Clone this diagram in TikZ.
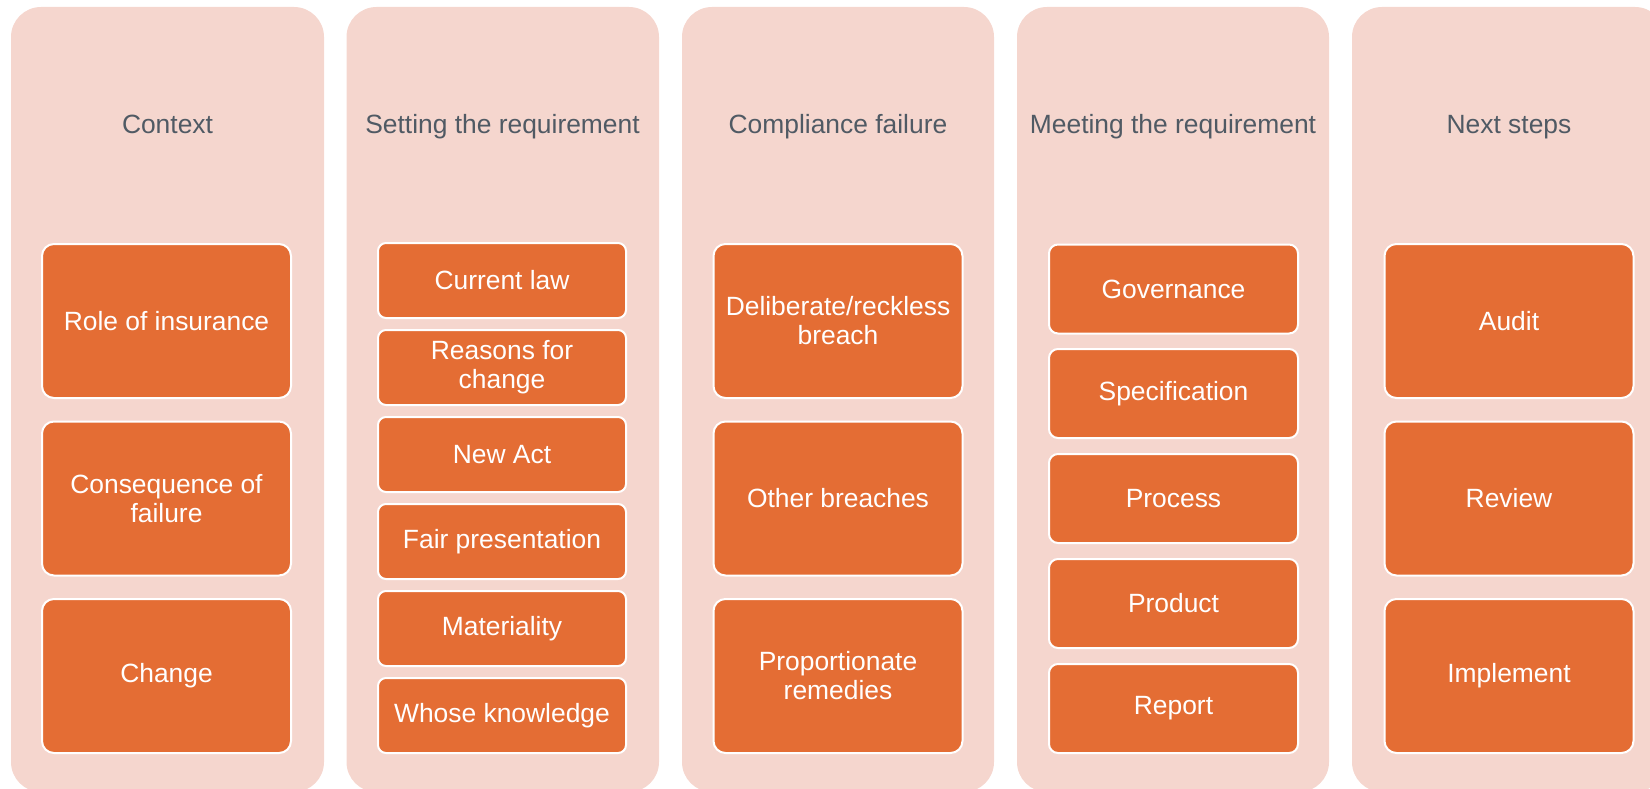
\documentclass[tikz,border=0pt]{standalone}
\usepackage{fontspec}
\setmainfont{Liberation Sans}
\usepackage{tikz}
\usetikzlibrary{positioning}
\definecolor{colpink}{RGB}{245,214,206}
\definecolor{boxorange}{RGB}{228,109,52}
\definecolor{headgray}{RGB}{80,90,100}
\tikzset{
	colhead/.style={text=headgray, anchor=base, font=\fontsize{26.4}{30}\selectfont},
	item/.style={draw=white, line width=2pt, fill=boxorange, text=white, align=center,
		rounded corners=12pt, font=\fontsize{26.4}{29}\selectfont, inner sep=0pt},
	bigitem/.style={item, minimum width=249pt, minimum height=154pt},
	smallitem/.style={item, minimum width=248pt, minimum height=75pt, rounded corners=8pt},
	miditem/.style={item, minimum width=249pt, minimum height=89pt, rounded corners=9pt}
}

\begin{document}
\begin{tikzpicture}[x=1pt,y=-1pt]
	\useasboundingbox (0,0) rectangle (1650,789);
	\clip (0,0) rectangle (1650,789);
	% columns
	\fill[colpink, rounded corners=30pt] (11,7) rectangle (324,792);
	\fill[colpink, rounded corners=30pt] (346.5,7) rectangle (659,792);
	\fill[colpink, rounded corners=30pt] (682,7) rectangle (994,792);
	\fill[colpink, rounded corners=30pt] (1017,7) rectangle (1329,792);
	\fill[colpink, rounded corners=30pt] (1352,7) rectangle (1665,792);
	% headings
	\node[colhead] (ctxhead) at (167.5,133.5) {Context};
	\node[colhead] (sethead) at (502.5,133.5) {Setting the requirement};
	\node[colhead] (failhead) at (838,133.5) {Compliance failure};
	\node[colhead] (meethead) at (1173,133.5) {Meeting the requirement};
	\node[colhead] (nexthead) at (1509,133.5) {Next steps};
	% context
	\node[bigitem] (role) at (166.5,321) {Role of insurance};
	\node[bigitem] (conseq) at (166.5,498.5) {Consequence of\\failure};
	\node[bigitem] (change) at (166.5,676) {Change};
	% setting the requirement
	\node[smallitem] (curlaw) at (502,280.5) {Current law};
	\node[smallitem] (reasons) at (502,367.5) {Reasons for\\change};
	\node[smallitem] (newact) at (502,454.5) {New Act};
	\node[smallitem] (fairpres) at (502,541.5) {Fair presentation};
	\node[smallitem] (material) at (502,628.5) {Materiality};
	\node[smallitem] (whose) at (502,715.5) {Whose knowledge};
	% compliance failure
	\node[bigitem] (delib) at (838,321) {Deliberate/reckless\\breach};
	\node[bigitem] (other) at (838,498.5) {Other breaches};
	\node[bigitem] (remedies) at (838,676) {Proportionate\\remedies};
	% meeting the requirement
	\node[miditem] (govern) at (1173.5,289) {Governance};
	\node[miditem] (spec) at (1173.5,393.5) {Specification};
	\node[miditem] (process) at (1173.5,498.5) {Process};
	\node[miditem] (product) at (1173.5,603.5) {Product};
	\node[miditem] (report) at (1173.5,708.5) {Report};
	% next steps
	\node[bigitem] (audit) at (1509,321) {Audit};
	\node[bigitem] (review) at (1509,498.5) {Review};
	\node[bigitem] (implement) at (1509,676) {Implement};
\end{tikzpicture}
\end{document}
